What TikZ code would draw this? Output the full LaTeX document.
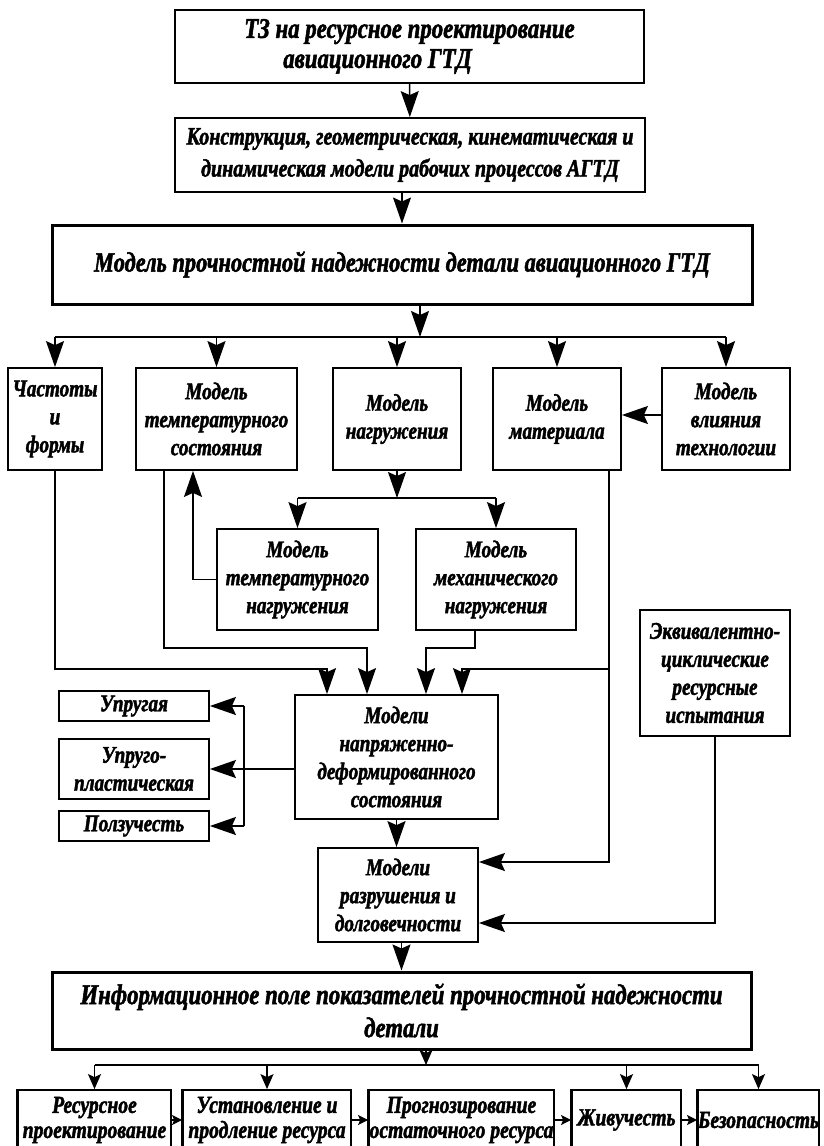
\documentclass[tikz,border=0pt]{standalone}
\usepackage{fontspec}
\setmainfont{Liberation Serif}[FakeStretch=0.8, BoldItalicFeatures={FakeBold=1.8}]
\usetikzlibrary{arrows.meta,positioning}

\begin{document}
\begin{tikzpicture}[x=1pt, y=-1pt, line width=1.5pt,
    >={Stealth[length=26pt, width=18pt, inset=4pt]},
    blk/.style={draw, rectangle, line width=1.8pt, inner sep=0pt, align=center,
        font=\bfseries\itshape\fontsize{24}{28}\selectfont},
    bigblk/.style={blk, line width=3pt},
    lowblk/.style={blk, minimum height=60pt, font=\bfseries\itshape\fontsize{24.5}{25}\selectfont},
    lowarr/.style={-{Stealth[length=15pt, width=13pt, inset=3pt]}},
    smallarr/.style={-{Stealth[length=10pt, width=10pt, inset=2pt]}}]
    \useasboundingbox (0,0) rectangle (823,1146);
    % Исходные данные
    \node[blk, minimum width=469pt, minimum height=73pt, font=\bfseries\itshape\fontsize{28.5}{30}\selectfont] (tz) at (409.5,46.5) {ТЗ на ресурсное проектирование\\авиационного ГТД\hspace*{64pt}};
    \node[blk, minimum width=470pt, minimum height=74pt, font=\bfseries\itshape\fontsize{25}{32}\selectfont] (konstr) at (410,155) {Конструкция, геометрическая, кинематическая и\\динамическая модели рабочих процессов АГТД};
    % Главная модель
    \node[bigblk, minimum width=700pt, minimum height=79pt, font=\bfseries\itshape\fontsize{28}{32}\selectfont] (model) at (402,264.5) {Модель прочностной надежности детали авиационного ГТД};
    % Частные модели
    \node[blk, minimum width=94pt, minimum height=102pt] (freq) at (55,419) {Частоты\\и\\формы};
    \node[blk, minimum width=161pt, minimum height=102pt] (tempst) at (216.5,419) {Модель\\температурного\\состояния};
    \node[blk, minimum width=128pt, minimum height=102pt] (nagr) at (397,419) {Модель\\нагружения};
    \node[blk, minimum width=128pt, minimum height=102pt] (mater) at (557,419) {Модель\\материала};
    \node[blk, minimum width=128pt, minimum height=102pt] (tech) at (726,419) {Модель\\влияния\\технологии};
    \node[blk, minimum width=161pt, minimum height=101pt] (tempnagr) at (297.5,579.5) {Модель\\температурного\\нагружения};
    \node[blk, minimum width=160pt, minimum height=101pt] (mechnagr) at (496,579.5) {Модель\\механического\\нагружения};
    \node[blk, minimum width=150pt, minimum height=126pt] (equiv) at (715,673) {Эквивалентно-\\циклические\\ресурсные\\испытания};
    % НДС и разрушение
    \node[blk, minimum width=203pt, minimum height=124pt] (stress) at (396.5,757) {Модели\\напряженно-\\деформированного\\состояния};
    \node[blk, minimum width=150pt, minimum height=30pt] (elast) at (134,706) {Упругая};
    \node[blk, minimum width=150pt, minimum height=60pt] (plast) at (134,769) {Упруго-\\пластическая};
    \node[blk, minimum width=150pt, minimum height=30pt] (creep) at (134,826) {Ползучесть};
    \node[blk, minimum width=160pt, minimum height=94pt] (fract) at (398,895) {Модели\\разрушения и\\долговечности};
    % Результаты
    \node[bigblk, minimum width=699pt, minimum height=77pt, font=\bfseries\itshape\fontsize{28.5}{33}\selectfont] (info) at (401.5,1010.5) {Информационное поле показателей прочностной надежности\\детали};
    \node[lowblk, minimum width=153pt] (res) at (94.5,1120) {Ресурсное\\проектирование};
    \node[lowblk, minimum width=168pt] (ext) at (267,1120) {Установление и\\продление ресурса};
    \node[lowblk, minimum width=185pt] (prog) at (461.5,1120) {Прогнозирование\\остаточного ресурса};
    \node[lowblk, minimum width=109pt] (surv) at (626.5,1120) {Живучесть};
    \node[lowblk, minimum width=121pt] (safe) at (758.5,1120) {Безопасность};
    \foreach \n in {res,ext,prog,surv,safe}
        \draw[line width=3pt] (\n.north west) -- (\n.south west);
    % Точки шин
    \coordinate (bus1) at (420,337);
    \coordinate (split) at (397,498);
    \coordinate (lvl1) at (0,648);
    \coordinate (lvl2) at (0,669);
    \coordinate (spine) at (244,769);
    \coordinate (bus2) at (426,1065);
    \coordinate (s1) at ([xshift=-69.5pt]stress.north);
    \coordinate (s2) at ([xshift=-29.5pt]stress.north);
    \coordinate (s3) at ([xshift=29.5pt]stress.north);
    \coordinate (s4) at ([xshift=65.5pt]stress.north);
    % Связи сверху
    \draw[->] (tz) -- (konstr);
    \draw[->] (konstr.south -| model) -- (model);
    \draw[->] (model.south -| bus1) -- (bus1);
    \draw (freq.north |- bus1) -- (tech.north |- bus1);
    \foreach \n in {freq,tempst,nagr,mater,tech}
        \draw[->] (\n.north |- bus1) -- (\n.north);
    \draw[->] ([yshift=4pt]tech.west) -- ([yshift=4pt]mater.east);
    \draw[->] (nagr) -- (split);
    \draw (tempnagr.north |- split) -- (mechnagr.north |- split);
    \draw[->] (tempnagr.north |- split) -- (tempnagr);
    \draw[->] (mechnagr.north |- split) -- (mechnagr);
    \draw[->] (tempnagr.west) -| ([xshift=-23.5pt]tempst.south);
    % Входы в НДС
    \draw[->] (freq.south) |- (s1 |- lvl2) -- (s1);
    \draw[->] ([xshift=-52.5pt]tempst.south) |- (s2 |- lvl1) -- (s2);
    \draw[->] ([xshift=-21pt]mechnagr.south) |- (s3 |- lvl1) -- (s3);
    \draw[->] ([xshift=52pt]mater.south) |- (s4 |- lvl2) -- (s4);
    \draw[->] ([xshift=52pt]mater.south) |- ([yshift=33pt]fract.east);
    \draw[->] (equiv.south) |- ([yshift=-28pt]fract.east);
    \draw (stress.west |- spine) -- (spine);
    \draw (elast.east -| spine) -- (creep.east -| spine);
    \foreach \n in {elast,plast,creep}
        \draw[->] (\n.east -| spine) -- (\n.east);
    \draw[->] (stress.south) -- (stress.south |- fract.north);
    \draw[->] (fract.south -| info) -- (info);
    % Связи снизу
    \draw[lowarr] (info.south -| bus2) -- (bus2);
    \draw (res.north |- bus2) -- (safe.north |- bus2);
    \foreach \n in {res,ext,surv,safe}
        \draw[lowarr] (\n.north |- bus2) -- (\n.north);
    \draw[smallarr] (res) -- (ext);
    \draw[smallarr] (ext) -- (prog);
    \draw[smallarr] (prog) -- (surv);
    \draw[smallarr] (surv) -- (safe);
\end{tikzpicture}
\end{document}
